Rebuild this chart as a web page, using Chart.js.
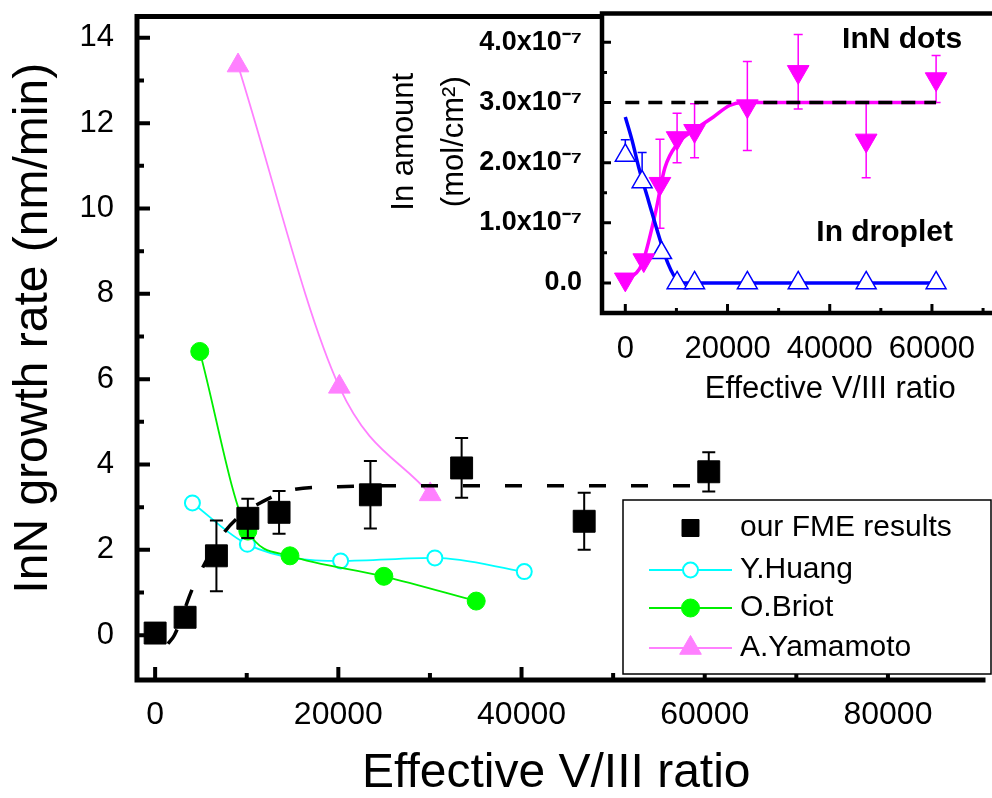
<!DOCTYPE html>
<html>
<head>
<meta charset="utf-8">
<script src="https://cdn.jsdelivr.net/npm/chart.js@4.4.0/dist/chart.umd.min.js"></script>
<style>
html,body{margin:0;padding:0;background:#fff;overflow:hidden;width:992px;height:798px;}
#wrap{position:relative;width:992px;height:798px;overflow:hidden;background:#fff;}
#main{position:absolute;left:0;top:0;}
#inset{position:absolute;left:370px;top:0;}
</style>
</head>
<body>
<div id="wrap">
<canvas id="main" width="992" height="798" style="width:992px;height:798px"></canvas>
<canvas id="inset" width="702" height="420" style="width:702px;height:420px"></canvas>
</div>
<script>
// ---------------- main chart data ----------------
const seriesNames = ['our FME results', 'Y.Huang', 'O.Briot', 'A.Yamamoto'];
const fmeX   = [0, 3270, 6690, 10120, 13530, 23500, 33460, 46840, 60440];
const fmeY   = [0.05, 0.42, 1.86, 2.74, 2.88, 3.29, 3.92, 2.67, 3.83];
const fmeErr = [0, 0, 0.83, 0.46, 0.5, 0.79, 0.7, 0.67, 0.46];
const fitX   = [1400, 2100, 4200, 7000, 9000, 11200, 15000, 20000, 25000, 60000];
const fitY   = [-0.2, 0.0, 1.15, 2.25, 2.75, 3.07, 3.41, 3.48, 3.5, 3.5];
const huangX = [4070, 10070, 20250, 30540, 40300];
const huangY = [3.1, 2.13, 1.74, 1.81, 1.49];
const briotX = [4870, 10120, 14720, 24970, 35050];
const briotY = [6.65, 2.44, 1.86, 1.38, 0.8];
const yamaX  = [9050, 20110, 30030];
const yamaY  = [13.35, 5.82, 3.30];
const mainXTicks = [0, 20000, 40000, 60000, 80000];
const mainXTickLabels = ['0', '20000', '40000', '60000', '80000'];
const mainXMinor = [10000, 30000, 50000, 70000];
const mainYTicks = [0, 2, 4, 6, 8, 10, 12, 14];
const mainYTickLabels = ['0', '2', '4', '6', '8', '10', '12', '14'];
const mainYMinor = [1, 3, 5, 7, 9, 11, 13];

// ---------------- inset data ----------------
const insetSeriesNames = ['InN dots', 'In droplet'];
const dotsX   = [0, 3610, 6780, 10130, 13550, 23880, 33830, 47130, 60810];
const dotsY   = [0.06e-7, 0.38e-7, 1.65e-7, 2.41e-7, 2.53e-7, 2.94e-7, 3.51e-7, 2.37e-7, 3.39e-7];
const dotsErr = [0, 0, 0.74e-7, 0.41e-7, 0.45e-7, 0.74e-7, 0.62e-7, 0.62e-7, 0.39e-7];
const dropX   = [0, 3290, 7090, 10130, 13550, 23880, 33830, 47130, 60810];
const dropY   = [2.12e-7, 1.68e-7, 0.50e-7, 0, 0, 0, 0, 0, 0];
const dropErrUp = [0.26e-7, 0.49e-7, 0, 0, 0, 0, 0, 0, 0];
const dotsFitX = [0, 3290, 5830, 7730, 10260, 13430, 17230, 20400, 22930, 60810];
const dotsFitY = [0.04e-7, 0.32e-7, 1.14e-7, 1.91e-7, 2.32e-7, 2.54e-7, 2.76e-7, 2.95e-7, 3.0e-7, 3.0e-7];
const dropFitX = [0, 1390, 2660, 4560, 6460, 8360, 10260, 12060, 60810];
const dropFitY = [2.76e-7, 2.35e-7, 1.91e-7, 1.36e-7, 0.81e-7, 0.32e-7, 0.04e-7, 0, 0];
const plateauX = [0, 60810];
const plateauY = [3.0e-7, 3.0e-7];
const insetXTicks = [0, 20000, 40000, 60000, 80000];
const insetXTickLabels = ['0', '20000', '40000', '60000', ''];
const insetXMinor = [10000, 30000, 50000, 70000];
const insetYTicks = [0, 1e-7, 2e-7, 3e-7, 4e-7];
const insetYTickLabels = ['0.0', '1.0x10\u207B\u2077', '2.0x10\u207B\u2077', '3.0x10\u207B\u2077', '4.0x10\u207B\u2077'];
const insetYMinor = [0.5e-7, 1.5e-7, 2.5e-7, 3.5e-7];

const FONT = "'Liberation Sans', Arial, Helvetica, sans-serif";
const pts = (xs, ys) => xs.map((x, i) => ({x: x, y: ys[i]}));
const lookup = (vals, labels) => (v) => {
  for (let i = 0; i < vals.length; i++) if (Math.abs(vals[i] - v) <= Math.abs(vals[1] - vals[0]) * 1e-6) return labels[i];
  return '';
};

function drawErr(ctx, sx, sy, xs, ys, es, color, lw, cap, upOnly) {
  ctx.save();
  ctx.strokeStyle = color; ctx.lineWidth = lw;
  xs.forEach((xv, i) => {
    if (!es[i]) return;
    const px = sx.getPixelForValue(xv);
    const t = sy.getPixelForValue(ys[i] + es[i]);
    const b = upOnly ? sy.getPixelForValue(ys[i]) : sy.getPixelForValue(ys[i] - es[i]);
    ctx.beginPath();
    ctx.moveTo(px, t); ctx.lineTo(px, b);
    ctx.moveTo(px - cap, t); ctx.lineTo(px + cap, t);
    if (!upOnly) { ctx.moveTo(px - cap, b); ctx.lineTo(px + cap, b); }
    ctx.stroke();
  });
  ctx.restore();
}

function drawFrame(chart, cfg) {
  const {ctx, chartArea: a, scales: {x, y}} = chart;
  ctx.save();
  ctx.strokeStyle = '#000';
  ctx.lineWidth = cfg.tickWidth;
  ctx.beginPath();
  cfg.yMajor.forEach(v => { const p = y.getPixelForValue(v); ctx.moveTo(a.left, p); ctx.lineTo(a.left + cfg.major, p); });
  cfg.yMinor.forEach(v => { const p = y.getPixelForValue(v); ctx.moveTo(a.left, p); ctx.lineTo(a.left + cfg.minor, p); });
  cfg.xMajor.forEach(v => { const p = x.getPixelForValue(v); ctx.moveTo(p, a.bottom); ctx.lineTo(p, a.bottom - cfg.major); });
  cfg.xMinor.forEach(v => { const p = x.getPixelForValue(v); ctx.moveTo(p, a.bottom); ctx.lineTo(p, a.bottom - cfg.minor); });
  ctx.stroke();
  ctx.lineWidth = cfg.frameWidth;
  ctx.lineJoin = 'miter';
  ctx.beginPath();
  ctx.moveTo(a.right + 10, a.top); ctx.lineTo(a.left, a.top); ctx.lineTo(a.left, a.bottom); ctx.lineTo(a.right + 10, a.bottom);
  ctx.stroke();
  ctx.restore();
}

// ---------------- main chart ----------------
const mainPlugin = {
  id: 'mainDecor',
  afterDatasetsDraw(chart) {
    drawErr(chart.ctx, chart.scales.x, chart.scales.y, fmeX, fmeY, fmeErr, '#000', 2, 6.5, false);
  },
  afterDraw(chart) {
    drawFrame(chart, {yMajor: mainYTicks, yMinor: mainYMinor, xMajor: mainXTicks, xMinor: mainXMinor,
                      major: 13, minor: 7, tickWidth: 4, frameWidth: 5});
    // legend
    const ctx = chart.ctx;
    ctx.save();
    ctx.fillStyle = '#fff';
    ctx.fillRect(623, 500, 368, 174);
    ctx.strokeStyle = '#000'; ctx.lineWidth = 1.5;
    ctx.strokeRect(623, 500, 368, 174);
    const legendSets = [0, 2, 3, 4];
    const rowY = [528, 570, 608, 648];
    legendSets.forEach((di, i) => {
      const ds = chart.data.datasets[di];
      const yy = rowY[i];
      if (ds.showLine) {
        ctx.strokeStyle = ds.borderColor; ctx.lineWidth = ds.borderWidth;
        ctx.beginPath(); ctx.moveTo(649, yy); ctx.lineTo(732, yy); ctx.stroke();
      }
      ctx.fillStyle = ds.pointBackgroundColor;
      ctx.strokeStyle = ds.pointBorderColor;
      ctx.lineWidth = ds.pointBorderWidth;
      Chart.helpers.drawPoint(ctx, {pointStyle: ds.pointStyle, radius: di === 0 ? 12 : ds.pointRadius,
                                    borderWidth: ds.pointBorderWidth, rotation: 0}, 690.5, yy);
      ctx.fillStyle = '#000';
      ctx.font = '30px ' + FONT;
      ctx.textBaseline = 'middle'; ctx.textAlign = 'left';
      ctx.fillText(ds.label, 740, yy);
    });
    ctx.restore();
  }
};

new Chart(document.getElementById('main'), {
  type: 'scatter',
  data: {
    datasets: [
      {label: seriesNames[0], data: pts(fmeX, fmeY), showLine: false, pointStyle: 'rect', pointRadius: 15.5,
       pointBackgroundColor: '#000', pointBorderColor: '#000', pointBorderWidth: 1, order: 0},
      {label: 'fit', data: pts(fitX, fitY), showLine: true, borderColor: '#000', borderWidth: 3.5,
       borderDash: [17, 25], pointRadius: 0, cubicInterpolationMode: 'monotone', order: 1},
      {label: seriesNames[1], data: pts(huangX, huangY), showLine: true, borderColor: '#00ffff', borderWidth: 1.8,
       pointStyle: 'circle', pointRadius: 7.5, pointBackgroundColor: '#ffffff', pointBorderColor: '#00ffff',
       pointBorderWidth: 2, cubicInterpolationMode: 'monotone', order: 3},
      {label: seriesNames[2], data: pts(briotX, briotY), showLine: true, borderColor: '#00ee00', borderWidth: 1.8,
       pointStyle: 'circle', pointRadius: 9, pointBackgroundColor: '#00ff00', pointBorderColor: '#00ff00',
       pointBorderWidth: 1, cubicInterpolationMode: 'monotone', order: 2},
      {label: seriesNames[3], data: pts(yamaX, yamaY), showLine: true, borderColor: '#ff80ff', borderWidth: 1.8,
       pointStyle: 'triangle', pointRadius: 12.5, pointBackgroundColor: '#ff80ff', pointBorderColor: '#ff80ff',
       pointBorderWidth: 1, cubicInterpolationMode: 'monotone', order: 4}
    ]
  },
  options: {
    responsive: false, animation: false, devicePixelRatio: 1,
    layout: {padding: {left: 0, right: 0, top: 10, bottom: 0}},
    plugins: {legend: {display: false}, tooltip: {enabled: false}},
    scales: {
      x: {
        type: 'linear', min: -1980, max: 89560,
        afterBuildTicks: s => { s.ticks = mainXTicks.map(v => ({value: v})); },
        afterFit: s => { s.height = 118; s.paddingLeft = 0; s.paddingRight = 0; },
        grid: {display: false}, border: {display: false},
        ticks: {autoSkip: false, maxRotation: 0, minRotation: 0, padding: 8, color: '#000',
                font: {family: FONT, size: 32}, callback: lookup(mainXTicks, mainXTickLabels)},
        title: {display: true, text: 'Effective V/III ratio', color: '#000',
                font: {family: FONT, size: 48, lineHeight: 1.0}, padding: {top: 0, bottom: 0.6}}
      },
      y: {
        type: 'linear', min: -1.05, max: 14.5,
        afterBuildTicks: s => { s.ticks = mainYTicks.map(v => ({value: v})); },
        afterFit: s => { s.width = 137; s.paddingTop = 0; s.paddingBottom = 0; },
        grid: {display: false}, border: {display: false},
        ticks: {autoSkip: false, padding: 15, color: '#000', font: {family: FONT, size: 31},
                callback: lookup(mainYTicks, mainYTickLabels)},
        title: {display: true, text: '   InN growth rate (nm/min)', color: '#000',
                font: {family: FONT, size: 48, lineHeight: 1.2}, padding: {top: 4.6, bottom: 0}}
      }
    }
  },
  plugins: [mainPlugin]
});

// ---------------- inset chart ----------------
const insetNotes = [
  {text: insetSeriesNames[0], x: 54160, y: 4.04e-7},
  {text: insetSeriesNames[1], x: 50740, y: 0.83e-7}
];
const insetPlugin = {
  id: 'insetDecor',
  beforeDatasetsDraw(chart) {
    const {ctx, chartArea: a, scales: {x, y}} = chart;
    ctx.save();
    ctx.fillStyle = '#fff';
    ctx.fillRect(a.left, a.top, a.right - a.left, a.bottom - a.top);
    ctx.restore();
    drawErr(ctx, x, y, dotsX, dotsY, dotsErr, '#ff00ff', 1.5, 4.5, false);
    drawErr(ctx, x, y, dropX, dropY, dropErrUp, '#0000ff', 1.5, 4.5, true);
  },
  afterDraw(chart) {
    drawFrame(chart, {yMajor: insetYTicks, yMinor: insetYMinor, xMajor: insetXTicks, xMinor: insetXMinor,
                      major: 9, minor: 5, tickWidth: 3, frameWidth: 4.5});
    const {ctx, scales: {x, y}} = chart;
    ctx.save();
    ctx.fillStyle = '#000';
    ctx.font = 'bold 30px ' + FONT;
    ctx.textAlign = 'center'; ctx.textBaseline = 'middle';
    insetNotes.forEach(n => ctx.fillText(n.text, x.getPixelForValue(n.x), y.getPixelForValue(n.y)));
    ctx.restore();
  }
};

new Chart(document.getElementById('inset'), {
  type: 'scatter',
  data: {
    datasets: [
      {label: 'InN dots fit', data: pts(dotsFitX, dotsFitY), showLine: true, borderColor: '#ff00ff', borderWidth: 3.5,
       pointRadius: 0, cubicInterpolationMode: 'monotone', order: 5},
      {label: 'In droplet fit', data: pts(dropFitX, dropFitY), showLine: true, borderColor: '#0000ff', borderWidth: 3.5,
       pointRadius: 0, cubicInterpolationMode: 'monotone', order: 4},
      {label: 'saturation', data: pts(plateauX, plateauY), showLine: true, borderColor: '#000', borderWidth: 3.5,
       borderDash: [14, 9], pointRadius: 0, order: 3},
      {label: insetSeriesNames[1], data: pts(dropX, dropY), showLine: false, pointStyle: 'triangle', pointRadius: 11.5,
       pointBackgroundColor: '#ffffff', pointBorderColor: '#0000ff', pointBorderWidth: 1.5, order: 2},
      {label: insetSeriesNames[0], data: pts(dotsX, dotsY), showLine: false, pointStyle: 'triangle', pointRotation: 180,
       pointRadius: 12.5, pointBackgroundColor: '#ff00ff', pointBorderColor: '#ff00ff', pointBorderWidth: 1, order: 1}
    ]
  },
  options: {
    responsive: false, animation: false, devicePixelRatio: 1,
    layout: {padding: {left: 0, right: 0, top: 10, bottom: 0}},
    plugins: {legend: {display: false}, tooltip: {enabled: false}},
    scales: {
      x: {
        type: 'linear', min: -4560, max: 84760,
        afterBuildTicks: s => { s.ticks = insetXTicks.map(v => ({value: v})); },
        afterFit: s => { s.height = 107; s.paddingLeft = 0; s.paddingRight = 0; },
        grid: {display: false}, border: {display: false},
        ticks: {autoSkip: false, maxRotation: 0, minRotation: 0, padding: 9.7, color: '#000',
                font: {family: FONT, size: 31}, callback: lookup(insetXTicks, insetXTickLabels)},
        title: {display: true, text: 'Effective V/III ratio', color: '#000',
                font: {family: FONT, size: 31, lineHeight: 1.0}, padding: {top: 0, bottom: 15.5}}
      },
      y: {
        type: 'linear', min: -0.5e-7, max: 4.48e-7,
        afterBuildTicks: s => { s.ticks = insetYTicks.map(v => ({value: v})); },
        afterFit: s => { s.width = 232; s.paddingTop = 0; s.paddingBottom = 0; },
        grid: {display: false}, border: {display: false},
        ticks: {autoSkip: false, padding: 12, color: '#000', font: {family: FONT, size: 27, weight: 'bold'},
                callback: lookup(insetYTicks, insetYTickLabels)},
        title: {display: true, text: ['     In amount', '     (mol/cm\u00B2)'], color: '#000',
                font: {family: FONT, size: 31, lineHeight: 50 / 31}, padding: {top: 9, bottom: 0}}
      }
    }
  },
  plugins: [insetPlugin]
});
</script>
</body>
</html>
